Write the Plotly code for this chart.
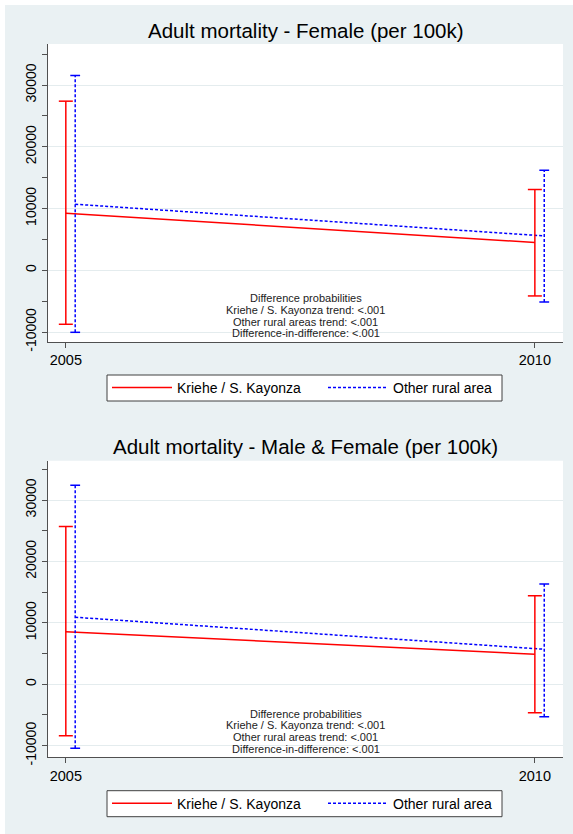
import plotly.graph_objects as go

W, H = 573, 834

years = [2005, 2010]
blue_offset = 0.1

# Panel 1: Female
f_red_mean = [9240, 4490]
f_red_lo = [-8750, -4160]
f_red_hi = [27390, 13080]
f_blue_mean = [10700, 5560]
f_blue_lo = [-10050, -5140]
f_blue_hi = [31550, 16200]

# Panel 2: Male & Female
mf_red_mean = [8570, 4890]
mf_red_lo = [-8370, -4620]
mf_red_hi = [25670, 14430]
mf_blue_mean = [10910, 5700]
mf_blue_lo = [-10420, -5280]
mf_blue_hi = [32410, 16330]

titles = ["Adult mortality - Female (per 100k)",
          "Adult mortality - Male & Female (per 100k)"]
series_names = ["Kriehe / S. Kayonza", "Other rural area"]
note_lines = ["Difference probabilities",
              "Kriehe / S. Kayonza trend: <.001",
              "Other rural areas trend: <.001",
              "Difference-in-difference: <.001"]
ytick_vals = [-10000, 0, 10000, 20000, 30000]
ytick_text = ["-10000", "0", "10000", "20000", "30000"]
xtick_text = ["2005", "2010"]

RED = "#FF0000"
BLUE = "#0000FF"
FONT = "Liberation Sans, Arial, sans-serif"
AXC = "#505050"
GRIDC = "#E4ECEE"
BG = "#EAF1F3"

def px_x(p):
    return p / W

def px_y(p):
    return 1 - p / H

fig = go.Figure()

panels = [
    dict(xa="x", ya="y", leg="legend",
         red=(f_red_mean, f_red_lo, f_red_hi), blue=(f_blue_mean, f_blue_lo, f_blue_hi),
         top=44, bot=342, yr=[-11620, 36650], title_y=30.5, note_y=[297.7, 309.6, 321.5, 333.4],
         leg_box=(375, 401)),
    dict(xa="x2", ya="y2", leg="legend2",
         red=(mf_red_mean, mf_red_lo, mf_red_hi), blue=(mf_blue_mean, mf_blue_lo, mf_blue_hi),
         top=460.7, bot=757.3, yr=[-11890, 36400], title_y=446, note_y=[713.5, 725.4, 737.3, 749.2],
         leg_box=(790.7, 816.7)),
]

# outer graph region background
fig.add_shape(type="rect", xref="paper", yref="paper", x0=px_x(5), x1=1, y0=0, y1=px_y(5),
              fillcolor=BG, line=dict(width=0), layer="below")

for i, p in enumerate(panels):
    rm, rlo, rhi = p["red"]
    bm, blo, bhi = p["blue"]
    bx = [y + blue_offset for y in years]
    # mean lines
    fig.add_trace(go.Scatter(x=years, y=rm, mode="lines", name=series_names[0],
                             line=dict(color=RED, width=1.5), xaxis=p["xa"], yaxis=p["ya"],
                             legend=p["leg"]))
    fig.add_trace(go.Scatter(x=bx, y=bm, mode="lines", name=series_names[1],
                             line=dict(color=BLUE, width=1.5, dash="3px,2px"),
                             xaxis=p["xa"], yaxis=p["ya"], legend=p["leg"]))
    # range bars with caps
    rx, ry = [], []
    for x, lo, hi in zip(years, rlo, rhi):
        rx += [x, x, None]
        ry += [lo, hi, None]
    fig.add_trace(go.Scatter(x=rx, y=ry, mode="lines", line=dict(color=RED, width=1.5),
                             showlegend=False, xaxis=p["xa"], yaxis=p["ya"], hoverinfo="skip"))
    fig.add_trace(go.Scatter(x=years + years, y=rlo + rhi, mode="markers",
                             marker=dict(symbol="line-ew", size=10, line=dict(color=RED, width=1.5)),
                             showlegend=False, xaxis=p["xa"], yaxis=p["ya"]))
    bxx, byy = [], []
    for x, lo, hi in zip(bx, blo, bhi):
        bxx += [x, x, None]
        byy += [lo, hi, None]
    fig.add_trace(go.Scatter(x=bxx, y=byy, mode="lines",
                             line=dict(color=BLUE, width=1.5, dash="3px,2px"),
                             showlegend=False, xaxis=p["xa"], yaxis=p["ya"], hoverinfo="skip"))
    fig.add_trace(go.Scatter(x=bx + bx, y=blo + bhi, mode="markers",
                             marker=dict(symbol="line-ew", size=7, line=dict(color=BLUE, width=1.5)),
                             showlegend=False, xaxis=p["xa"], yaxis=p["ya"]))

    axis_suffix = "" if i == 0 else "2"
    dom_y = [px_y(p["bot"]), px_y(p["top"])]
    xaxis = dict(domain=[px_x(48), px_x(563)], range=[2004.81, 2010.30],
                 tickvals=years, ticktext=xtick_text, ticks="outside", ticklen=5,
                 tickcolor=AXC, showline=True, linecolor=AXC, linewidth=1,
                 showgrid=False, zeroline=False, anchor="y" + axis_suffix, automargin=False,
                 tickfont=dict(family=FONT, size=14.5, color="#000"))
    yaxis = dict(domain=dom_y, range=p["yr"], tickvals=ytick_vals, ticktext=ytick_text,
                 ticks="outside", ticklen=5, tickcolor=AXC, showline=True, linecolor=AXC,
                 linewidth=1, showgrid=True, gridcolor=GRIDC, gridwidth=1, zeroline=False,
                 tickangle=-90, anchor="x" + axis_suffix, automargin=False,
                 minor=dict(tickvals=[-5000, 5000, 15000, 25000, 35000], ticks="outside",
                            ticklen=5, tickcolor=AXC, showgrid=False),
                 tickfont=dict(family=FONT, size=14, color="#000"))
    fig.layout["xaxis" + axis_suffix] = xaxis
    fig.layout["yaxis" + axis_suffix] = yaxis

    # white plot region
    fig.add_shape(type="rect", xref="paper", yref="paper", x0=px_x(48), x1=px_x(563),
                  y0=px_y(p["bot"]), y1=px_y(p["top"]), fillcolor="white",
                  line=dict(width=0), layer="below")

    fig.add_annotation(text=titles[i], xref="paper", yref="paper", x=px_x(305.5),
                       y=px_y(p["title_y"]), xanchor="center", yanchor="middle",
                       showarrow=False, font=dict(family=FONT, size=20.5, color="#000"))
    for t, yy in zip(note_lines, p["note_y"]):
        fig.add_annotation(text=t, xref="paper", yref="paper", x=px_x(305.5), y=px_y(yy),
                           xanchor="center", yanchor="middle", showarrow=False,
                           font=dict(family=FONT, size=11, color="#222"))

    # legend frame
    b0, b1 = p["leg_box"]
    fig.add_shape(type="rect", xref="paper", yref="paper", x0=px_x(107), x1=px_x(502),
                  y0=px_y(b1), y1=px_y(b0), fillcolor="white",
                  line=dict(color="#404040", width=1), layer="below")
    fig.layout[p["leg"]] = dict(orientation="h", x=px_x(107), xanchor="left",
                                y=px_y((b0 + b1) / 2), yanchor="middle",
                                bgcolor="rgba(0,0,0,0)", borderwidth=0,
                                font=dict(family=FONT, size=14, color="#000"),
                                entrywidth=141, itemwidth=60)

fig.update_layout(width=W, height=H, margin=dict(l=0, r=0, t=0, b=0),
                  paper_bgcolor="white", plot_bgcolor="rgba(0,0,0,0)",
                  font=dict(family=FONT))
fig.write_html("out.html", config={"displayModeBar": False},
               post_script="document.body.style.margin='0';document.body.style.overflow='hidden';")
